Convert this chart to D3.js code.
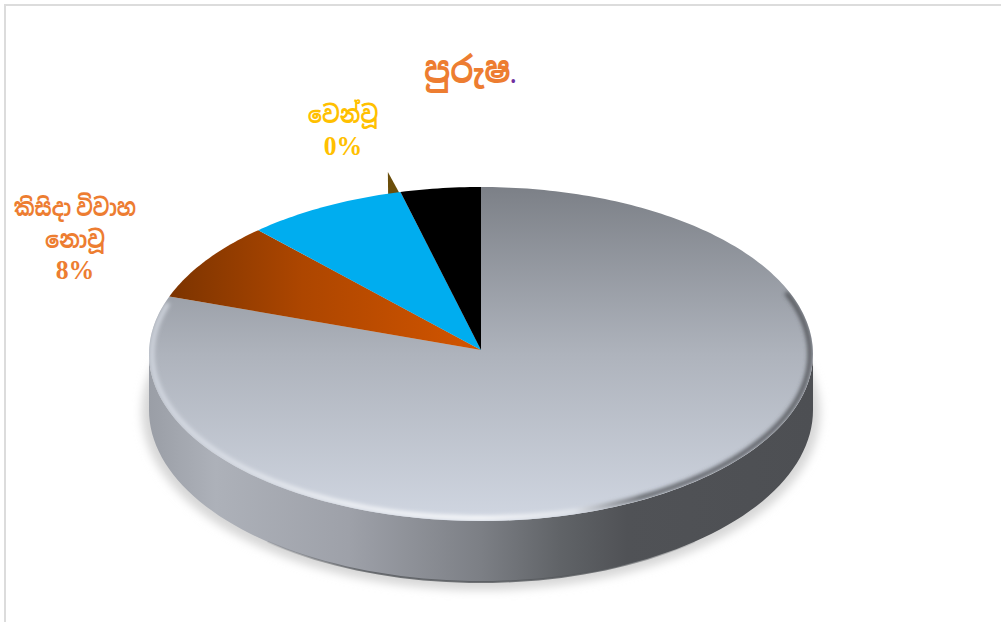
<!DOCTYPE html>
<html><head><meta charset="utf-8">
<script src="https://cdn.jsdelivr.net/npm/d3@7"></script>
<style>html,body{margin:0;padding:0;background:#fff;overflow:hidden}svg{display:block}</style>
</head><body><svg id="c" width="1001" height="622"></svg>
<script>
const categories = ["main","kisida","blue","wenwu","black"];
const values = [80.6, 7.7, 7.8, 0, 3.9];
const titleText = "පුරුෂ";
const labelOrange = ["කිසිදා විවාහ","නොවූ","8%"];
const labelYellow = ["වෙන්වූ","0%"];

const cx=481,apexY=350,cy=354,rx=332,ry=167,lowCy=410,lowRy=172;
const svg=d3.select("#c");
const defs=svg.append("defs");
function grad(id,attrs,stops){
  const g=defs.append("linearGradient").attr("id",id).attr("gradientUnits","userSpaceOnUse");
  Object.entries(attrs).forEach(([k,v])=>g.attr(k,v));
  stops.forEach(([o,c,op])=>g.append("stop").attr("offset",o).attr("stop-color",c).attr("stop-opacity",op===undefined?1:op));
}
grad("gSide",{x1:149,y1:0,x2:813,y2:0},[[0,"#9a9ea6"],[0.1,"#adb1b9"],[0.3,"#9ea1a9"],[0.5,"#7c7f85"],[0.62,"#606367"],[0.72,"#505256"],[1,"#4d4f53"]]);
grad("gBevel",{x1:149,y1:0,x2:813,y2:0},[[0,"#d5dae3"],[0.12,"#dfe3ea"],[0.3,"#f4f6f9"],[0.5,"#ffffff"],[0.64,"#e6e9ee"],[0.74,"#505256"],[1,"#4a4c50"]]);
grad("gStrip",{x1:250,y1:0,x2:720,y2:0},[[0,"#55585c",0],[0.25,"#55585c",0.8],[0.75,"#55585c",0.8],[1,"#55585c",0]]);
grad("gTop",{x1:0,y1:187,x2:0,y2:521},[[0,"#7c8087"],[0.5,"#aeb3bc"],[1,"#d0d6e1"]]);
grad("gOrange",{x1:165,y1:0,x2:470,y2:0},[[0,"#7a3300"],[0.45,"#ad4600"],[1,"#d05400"]]);
const blur=(id,s)=>defs.append("filter").attr("id",id).attr("x","-20%").attr("y","-20%").attr("width","140%").attr("height","140%")
  .append("feGaussianBlur").attr("stdDeviation",s);
blur("b8",5);blur("b2",2);

// frame
svg.append("rect").attr("x",5).attr("y",5).attr("width",1100).attr("height",700).attr("fill","#fff").attr("stroke","#dcdcdc").attr("stroke-width",2);

const pie=d3.pie().sort(null).value(d=>d)(values);
const ang=(a,inset=0)=>[cx+(rx-inset)*Math.sin(a),cy-(ry-inset)*Math.cos(a)];
const rad=d=>d*Math.PI/180;
const line=d3.line();

// shadow
svg.append("ellipse").attr("cx",cx).attr("cy",lowCy+2).attr("rx",rx+7).attr("ry",lowRy+6)
 .attr("fill","#d6d6d6").attr("filter","url(#b8)");
// side wall
const wall=d3.range(-90,91,2).map(d=>{const a=rad(d);return [cx+rx*Math.sin(a),cy+ry*Math.cos(a)]});
const wallLow=d3.range(90,-91,-2).map(d=>{const a=rad(d);return [cx+rx*Math.sin(a),lowCy+lowRy*Math.cos(a)]});
svg.append("path").attr("d",line(wall.concat(wallLow))+"Z").attr("fill","url(#gSide)");
svg.append("path").attr("d",line(wallLow.slice(25,66))).attr("fill","none").attr("stroke","url(#gStrip)").attr("stroke-width",2);

// small detached slice behind the top face (the 0% category)
const aEnd=pie[3].startAngle;
const base1=ang(aEnd), base2=ang(aEnd-rad(2.2));
const tipA=aEnd-rad(0.4);
const tip=[cx+rx*1.125*Math.sin(tipA),cy-ry*1.125*Math.cos(tipA)];
svg.append("path").attr("d",line([tip,[base1[0],base1[1]+3],[base2[0],base2[1]+3]])+"Z").attr("fill","#6b4e0a");

// top face: slices meet at the apex, which perspective sets above the rim centre
const fills=["url(#gTop)","url(#gOrange)","#00adef","none","#000"];
const slice=d=>{
  const n=Math.max(2,Math.ceil((d.endAngle-d.startAngle)/rad(1)));
  const pts=d3.range(n+1).map(i=>ang(d.startAngle+(d.endAngle-d.startAngle)*i/n));
  return line([[cx,apexY],...pts])+"Z";
};
svg.selectAll("path.s").data(pie).join("path").attr("class","s").attr("d",slice).attr("fill",(d,i)=>fills[i]);

// bevel on the gray rim
defs.append("clipPath").attr("id","cpTop").append("ellipse").attr("cx",cx).attr("cy",cy).attr("rx",rx).attr("ry",ry);
const rimEnd=Math.round(pie[0].endAngle*180/Math.PI);
const g=svg.append("g").attr("clip-path","url(#cpTop)");
g.append("path").attr("d",line(d3.range(68,rimEnd,2).map(d=>ang(rad(d),3)))).attr("fill","none")
 .attr("stroke","url(#gBevel)").attr("stroke-width",4).attr("filter","url(#b2)");

// title + labels
const serif="'Liberation Serif','Noto Sans Sinhala','Noto Serif Sinhala',serif";
const txt=(s,x,y,sx,sy,fs,c)=>svg.append("text").attr("transform",`translate(${x},${y}) scale(${sx},${sy})`)
  .attr("text-anchor","middle").attr("font-family",serif).attr("font-weight","bold").attr("font-size",fs).attr("fill",c).text(s);
const tt=txt("",470,83,0.915,1.06,35,"#ed7d31");
tt.append("tspan").text(titleText);
tt.append("tspan").attr("fill","#7030a0").attr("font-size",24).text(".");
txt(labelOrange[0],75,216,0.82,1,24,"#ed7d31");
txt(labelOrange[1],75,248,0.88,1,24,"#ed7d31");
txt(labelOrange[2],75,279,0.92,1,28,"#ed7d31");
txt(labelYellow[0],343,123,0.88,1,24,"#ffc000");
txt(labelYellow[1],343,155,0.92,1,28,"#ffc000");
</script></body></html>
